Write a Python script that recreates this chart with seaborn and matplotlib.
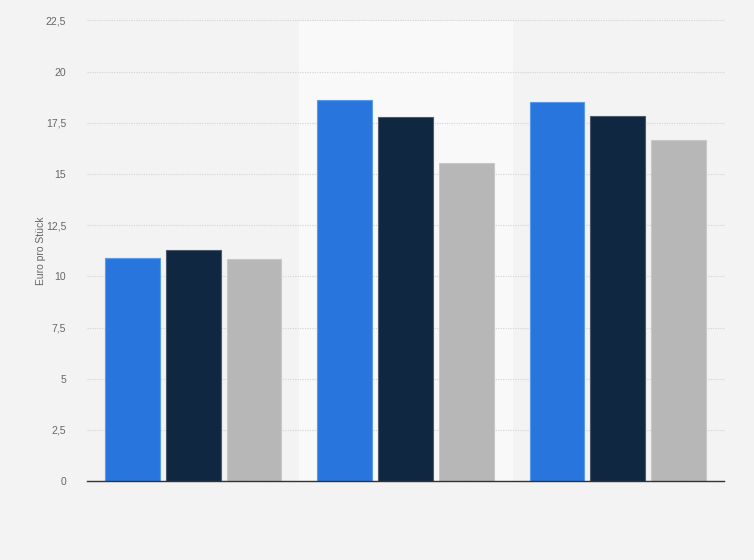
import matplotlib
matplotlib.use("Agg")
import matplotlib.pyplot as plt
import seaborn as sns
import pandas as pd

categories = ["Gruppe 1", "Gruppe 2", "Gruppe 3"]
series_names = ["Serie 1", "Serie 2", "Serie 3"]
serie_1 = [10.88, 18.6, 18.5]
serie_2 = [11.27, 17.77, 17.82]
serie_3 = [10.83, 15.52, 16.64]
y_ticks = [0, 2.5, 5, 7.5, 10, 12.5, 15, 17.5, 20, 22.5]
y_tick_labels = ["0", "2,5", "5", "7,5", "10", "12,5", "15", "17,5", "20", "22,5"]
y_label = "Euro pro Stück"

colors = ["#2876dd", "#0f2740", "#b7b7b7"]
edge_colors = ["#5a9ae8", "#4a5a6a", "#c8c8c8"]

rows = []
for s, vals in zip(series_names, [serie_1, serie_2, serie_3]):
    for c, v in zip(categories, vals):
        rows.append({"Kategorie": c, "Serie": s, "Wert": v})
df = pd.DataFrame(rows)

sns.set_style("white")
plt.rcParams["font.family"] = ["Liberation Sans", "DejaVu Sans"]

fig = plt.figure(figsize=(7.54, 5.6), dpi=100)
fig.patch.set_facecolor("#f3f3f3")
ax = fig.add_axes([87 / 754, 1 - 481 / 560, (724 - 87) / 754, (481 - 20.5) / 560])
ax.set_facecolor("#f3f3f3")

ax.axvspan(0.5, 1.5, color="#f9f9f9", zorder=0)

sns.barplot(data=df, x="Kategorie", y="Wert", hue="Serie", palette=colors,
            saturation=1, width=0.86, gap=0.1, ax=ax, legend=False, zorder=3,
            linewidth=0.8)
for i, cont in enumerate(ax.containers):
    for p in cont:
        p.set_edgecolor(edge_colors[i])

ax.set_xlim(-0.5, 2.5)
ax.set_ylim(0, 22.5)
ax.set_yticks(y_ticks)
ax.set_yticklabels(y_tick_labels)
ax.set_xticks([])
ax.set_xlabel("")
ax.set_ylabel(y_label, fontsize=7.5, color="#666666", labelpad=0)

ax.yaxis.grid(True, linestyle=(0, (1, 1.2)), color="#d2d2d2", linewidth=0.8, zorder=1)
ax.set_axisbelow(True)
for gl in ax.get_ygridlines():
    gl.set_clip_on(False)
ax.tick_params(axis="y", length=0, pad=15, labelsize=7.5, labelcolor="#666666")

for side in ["top", "right", "left"]:
    ax.spines[side].set_visible(False)
ax.spines["bottom"].set_color("#333333")
ax.spines["bottom"].set_linewidth(1.0)
ax.spines["bottom"].set_zorder(5)

fig.savefig("out.png", dpi=100, facecolor=fig.get_facecolor())
